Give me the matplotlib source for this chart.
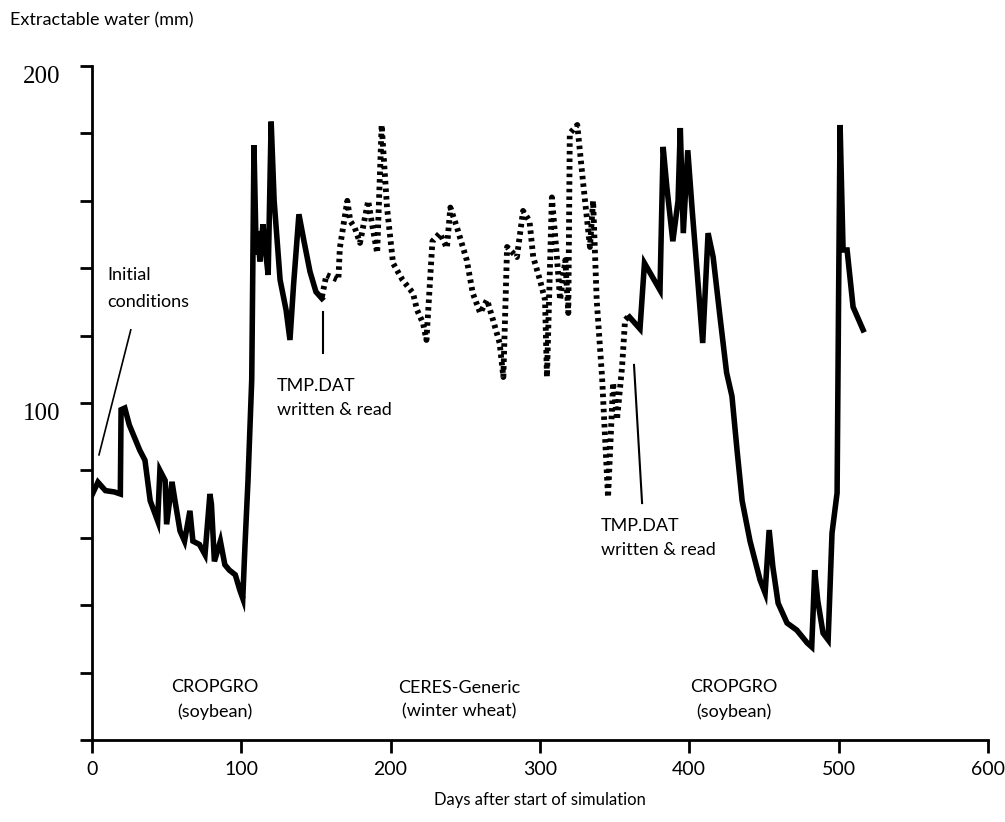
import matplotlib.pyplot as plt

# ==========================
# Data
# ==========================

# CROPGRO soybean, first season
soy1_days = [0, 4, 9, 15, 19, 19.5, 22, 25, 32, 35.5, 39, 44, 45.5, 49, 50,
             53.6, 55.6, 59, 62, 65.6, 67.6, 72, 75.7, 79, 80, 82, 86, 89,
             92, 96, 99, 101, 102.5, 104.5, 107, 108.5, 110, 111, 112.5,
             114.5, 116.5, 118, 120, 122, 126, 130, 132.6, 135, 138.6, 142,
             146, 150, 154]
soy1_water = [72.7, 76.5, 74, 73.6, 73, 98, 98.5, 93.5, 86, 83, 71, 65, 80,
              77, 64, 76.6, 71, 62, 59, 68, 59, 58, 55, 73, 70, 53, 59, 52,
              50.4, 49, 44.5, 42, 58, 77, 107, 176.5, 144, 151, 142, 153,
              144, 138, 183.5, 160, 136.5, 127.6, 118.7, 135, 156, 148,
              139, 133, 131]

# CERES-Generic winter wheat
wheat_days = [154, 157, 165, 166, 171, 173, 176, 179.5, 185, 188, 191, 194,
              197.6, 201.6, 208, 215, 217.7, 221.7, 224, 228, 233, 237.7,
              240, 244.5, 251, 255, 260, 264.6, 268.6, 273, 275.5, 278,
              284.6, 288.7, 293, 295.5, 300, 303.4, 304.7, 308, 311, 313.5,
              317, 319, 320, 325, 329, 333.5, 335.6, 338, 341.6, 345.6, 349,
              351.6, 355, 357, 360]
wheat_water = [131.5, 138, 136.5, 146, 160, 154, 152, 147.5, 160, 152, 144.5,
               182.5, 158, 141.5, 136.5, 132.6, 127.6, 123.7, 118.7, 148,
               150.4, 146, 158, 152, 142.4, 132.6, 126.7, 130.6, 124.6,
               117.8, 107.7, 146.3, 143.3, 157, 154, 143.3, 136.5, 130.6,
               107.7, 161, 145.4, 130.6, 142.4, 126.7, 180, 182.5, 165,
               146.3, 160, 130.6, 107.7, 72, 106, 95, 110.7, 124.6, 126]

# CROPGRO soybean, second season
soy2_days = [360, 367, 370, 380.4, 382.5, 385, 389, 392.5, 394, 396, 399,
             402, 405, 409, 412.6, 416, 420.6, 425, 428.6, 432, 435.4, 440.7,
             447.4, 450.8, 453.5, 456, 459.5, 465.5, 472, 479, 482, 483, 484,
             486, 489.6, 493, 495.6, 499, 500, 501, 503, 505.7, 509.7, 516.4]
soy2_water = [125.5, 122, 141.5, 133.5, 176, 164, 148, 160, 181.6, 150.4,
              175, 157, 140.4, 117.8, 150.4, 143.3, 125.5, 109, 102, 86, 71,
              59, 47.5, 43.6, 62.3, 51.3, 40.6, 34.7, 32.6, 28.8, 27.6, 38.6,
              50.4, 41.5, 31.7, 29.7, 61.4, 73.3, 131.5, 182.5, 145.4, 145.4,
              128.5, 121.7]

x_ticks = [0, 100, 200, 300, 400, 500, 600]
y_ticks = [0, 20, 40, 60, 80, 100, 120, 140, 160, 180, 200]
y_labels = ["", "", "", "", "", "100", "", "", "", "", "200"]

# ==========================
# Figure
# ==========================

text_font = ["Lato", "DejaVu Sans"]

fig = plt.figure(figsize=(10.05, 8.22), dpi=100)
ax = fig.add_axes([0.0915, 0.0998, 0.8915, 0.8199])

ax.plot(soy1_days, soy1_water, color="black", lw=4.0,
        solid_joinstyle="miter")
ax.plot(wheat_days, wheat_water, color="black", lw=4.2,
        linestyle=(0, (0.6, 0.7)), dash_capstyle="butt")
ax.plot(soy2_days, soy2_water, color="black", lw=4.0,
        solid_joinstyle="miter")

# Pointer lines
ax.plot([26, 4.7], [121.7, 84.6], color="black", lw=1.2)
ax.plot([154.7, 154.7], [127, 114.8], color="black", lw=1.5)
ax.plot([363, 368.4], [111.3, 70.3], color="black", lw=1.5)

# Annotations
ax.text(10, 134, "Initial\nconditions", fontsize=13, family=text_font,
        linespacing=1.8, va="center", ha="left")
ax.text(124, 101.5, "TMP.DAT\nwritten & read", fontsize=13,
        family=text_font, linespacing=1.6, va="center", ha="left")
ax.text(341, 60, "TMP.DAT\nwritten & read", fontsize=13, family=text_font,
        linespacing=1.6, va="center", ha="left")
ax.text(82, 12, "CROPGRO\n(soybean)", fontsize=13, family=text_font,
        linespacing=1.6, va="center", ha="center")
ax.text(246, 12, "CERES-Generic\n(winter wheat)", fontsize=13,
        family=text_font, linespacing=1.6, va="center", ha="center")
ax.text(430, 12, "CROPGRO\n(soybean)", fontsize=13, family=text_font,
        linespacing=1.6, va="center", ha="center")

ax.set_xlim(0, 600)
ax.set_ylim(0, 200)

ax.set_xticks(x_ticks)
ax.set_xticklabels([str(v) for v in x_ticks], family=text_font, fontsize=14)
ax.set_yticks(y_ticks)
ax.set_yticklabels(y_labels, family="Liberation Serif", fontsize=18)
for label in ax.get_yticklabels():
    label.set_verticalalignment("top")

ax.tick_params(axis="both", direction="out", length=9, width=2,
               color="black")
ax.tick_params(axis="y", pad=14)
ax.tick_params(axis="x", pad=6)

for side in ["top", "right"]:
    ax.spines[side].set_visible(False)
for side in ["left", "bottom"]:
    ax.spines[side].set_linewidth(2)

ax.margins(0)

fig.text(0.01, 0.975, "Extractable water (mm)", fontsize=13,
         family=text_font, va="center", ha="left")
fig.text(0.537, 0.027, "Days after start of simulation", fontsize=12,
         family=text_font, va="center", ha="center")

fig.savefig("out.png", dpi=100)
